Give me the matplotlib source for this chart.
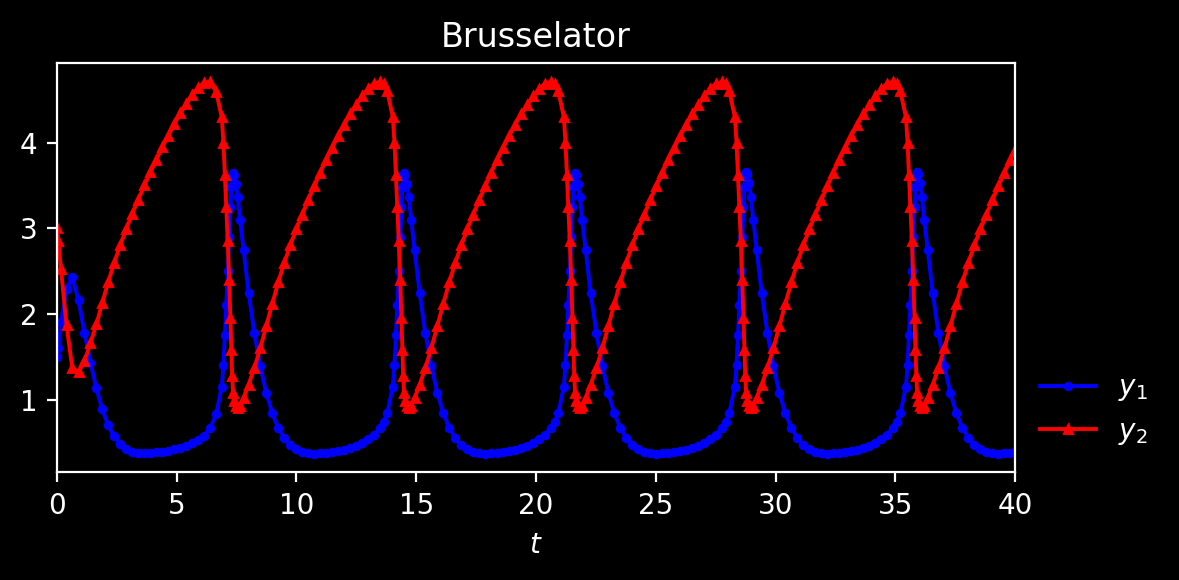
import matplotlib
matplotlib.use("Agg")
import matplotlib.pyplot as plt

# Brusselator, valores (pasos del integrador)
t = [0.00, 0.06, 0.17, 0.40, 0.64, 0.90, 1.15, 1.40, 1.65, 1.89, 2.14, 2.39, 2.64, 2.89,
     3.14, 3.39, 3.65, 3.90, 4.15, 4.40, 4.65, 4.90, 5.15, 5.40, 5.65, 5.90, 6.15, 6.40, 6.65,
     # ciclo 1
     6.88, 6.95, 7.01, 7.07, 7.13, 7.19, 7.24, 7.28, 7.315, 7.35, 7.40, 7.47, 7.55, 7.65,
     7.79, 8.00, 8.24, 8.49, 8.74, 8.99, 9.24, 9.49, 9.74, 9.99, 10.24, 10.49, 10.74, 10.99,
     11.24, 11.49, 11.74, 11.99, 12.24, 12.49, 12.74, 12.99, 13.24, 13.49, 13.64,
     # ciclo 2
     13.79, 14.02, 14.09, 14.15, 14.21, 14.27, 14.33, 14.38, 14.42, 14.455, 14.49, 14.54,
     14.61, 14.69, 14.79, 14.93, 15.14, 15.38, 15.63, 15.88, 16.13, 16.38, 16.63, 16.88,
     17.13, 17.38, 17.63, 17.88, 18.13, 18.38, 18.63, 18.88, 19.13, 19.38, 19.63, 19.88,
     20.13, 20.38, 20.63, 20.78,
     # ciclo 3
     20.93, 21.16, 21.23, 21.29, 21.35, 21.41, 21.47, 21.52, 21.56, 21.595, 21.63, 21.68,
     21.75, 21.83, 21.93, 22.07, 22.28, 22.52, 22.77, 23.02, 23.27, 23.52, 23.77, 24.02,
     24.27, 24.52, 24.77, 25.02, 25.27, 25.52, 25.77, 26.02, 26.27, 26.52, 26.77, 27.02,
     27.27, 27.52, 27.77, 27.92,
     # ciclo 4
     28.07, 28.30, 28.37, 28.43, 28.49, 28.55, 28.61, 28.66, 28.70, 28.735, 28.77, 28.82,
     28.89, 28.97, 29.07, 29.21, 29.42, 29.66, 29.91, 30.16, 30.41, 30.66, 30.91, 31.16,
     31.41, 31.66, 31.91, 32.16, 32.41, 32.66, 32.91, 33.16, 33.41, 33.66, 33.91, 34.16,
     34.41, 34.66, 34.91, 35.06,
     # ciclo 5
     35.21, 35.44, 35.51, 35.57, 35.63, 35.69, 35.75, 35.80, 35.84, 35.875, 35.91, 35.96,
     36.03, 36.11, 36.21, 36.35, 36.56, 36.80, 37.05, 37.30, 37.55, 37.80, 38.05, 38.30,
     38.55, 38.80, 39.05, 39.30, 39.55, 39.80, 40.00]

y1 = [1.50, 1.60, 1.90, 2.29, 2.43, 2.16, 1.78, 1.43, 1.13, 0.89, 0.70, 0.57, 0.48, 0.42,
      0.39, 0.38, 0.38, 0.38, 0.384, 0.391, 0.40, 0.42, 0.44, 0.46, 0.49, 0.53, 0.58, 0.67, 0.83,
      # ciclo 1
      1.15, 1.40, 1.75, 2.10, 2.50, 2.90, 3.25, 3.48, 3.61, 3.65, 3.62, 3.52, 3.36, 3.10,
      2.75, 2.25, 1.78, 1.39, 1.08, 0.84, 0.67, 0.55, 0.47, 0.42, 0.39, 0.375, 0.37, 0.372,
      0.378, 0.386, 0.396, 0.41, 0.43, 0.455, 0.49, 0.535, 0.59, 0.67, 0.74,
      # ciclo 2
      0.84, 1.15, 1.40, 1.75, 2.10, 2.50, 2.90, 3.25, 3.48, 3.61, 3.65, 3.62, 3.52, 3.36,
      3.10, 2.75, 2.25, 1.78, 1.39, 1.08, 0.84, 0.67, 0.55, 0.47, 0.42, 0.39, 0.375, 0.37,
      0.372, 0.378, 0.386, 0.396, 0.41, 0.43, 0.455, 0.49, 0.535, 0.59, 0.67, 0.74,
      # ciclo 3
      0.84, 1.15, 1.40, 1.75, 2.10, 2.50, 2.90, 3.25, 3.48, 3.61, 3.65, 3.62, 3.52, 3.36,
      3.10, 2.75, 2.25, 1.78, 1.39, 1.08, 0.84, 0.67, 0.55, 0.47, 0.42, 0.39, 0.375, 0.37,
      0.372, 0.378, 0.386, 0.396, 0.41, 0.43, 0.455, 0.49, 0.535, 0.59, 0.67, 0.74,
      # ciclo 4
      0.84, 1.15, 1.40, 1.75, 2.10, 2.50, 2.90, 3.25, 3.48, 3.61, 3.66, 3.63, 3.53, 3.37,
      3.10, 2.75, 2.25, 1.78, 1.39, 1.08, 0.84, 0.67, 0.55, 0.47, 0.42, 0.39, 0.375, 0.37,
      0.372, 0.378, 0.386, 0.396, 0.41, 0.43, 0.455, 0.49, 0.535, 0.59, 0.67, 0.74,
      # ciclo 5
      0.84, 1.15, 1.40, 1.75, 2.10, 2.50, 2.90, 3.25, 3.48, 3.61, 3.66, 3.63, 3.53, 3.37,
      3.10, 2.75, 2.25, 1.78, 1.39, 1.08, 0.84, 0.67, 0.55, 0.47, 0.42, 0.39, 0.375, 0.37,
      0.372, 0.378, 0.384]

y2 = [3.00, 2.85, 2.52, 1.87, 1.37, 1.32, 1.45, 1.66, 1.88, 2.13, 2.37, 2.60, 2.80, 2.99,
      3.17, 3.33, 3.50, 3.655, 3.80, 3.95, 4.08, 4.22, 4.34, 4.45, 4.56, 4.64, 4.70, 4.71, 4.59,
      # ciclo 1
      4.30, 4.00, 3.62, 3.25, 2.85, 2.40, 1.95, 1.58, 1.28, 1.08, 0.98, 0.92, 0.90, 0.93,
      1.02, 1.17, 1.37, 1.60, 1.86, 2.12, 2.37, 2.60, 2.80, 2.99, 3.16, 3.33, 3.49, 3.65,
      3.80, 3.94, 4.08, 4.21, 4.33, 4.44, 4.54, 4.63, 4.69, 4.71, 4.68,
      # ciclo 2
      4.60, 4.30, 4.00, 3.62, 3.25, 2.85, 2.40, 1.95, 1.58, 1.28, 1.08, 0.98, 0.92, 0.90,
      0.93, 1.02, 1.17, 1.37, 1.60, 1.86, 2.12, 2.37, 2.60, 2.80, 2.99, 3.16, 3.33, 3.49,
      3.65, 3.80, 3.94, 4.08, 4.21, 4.33, 4.44, 4.54, 4.63, 4.69, 4.71, 4.68,
      # ciclo 3
      4.60, 4.30, 4.00, 3.62, 3.25, 2.85, 2.40, 1.95, 1.58, 1.28, 1.08, 0.98, 0.92, 0.90,
      0.93, 1.02, 1.17, 1.37, 1.60, 1.86, 2.12, 2.37, 2.60, 2.80, 2.99, 3.16, 3.33, 3.49,
      3.65, 3.80, 3.94, 4.08, 4.21, 4.33, 4.44, 4.54, 4.63, 4.69, 4.71, 4.68,
      # ciclo 4
      4.60, 4.30, 4.00, 3.62, 3.25, 2.85, 2.40, 1.95, 1.58, 1.28, 1.08, 0.98, 0.92, 0.90,
      0.93, 1.02, 1.17, 1.37, 1.60, 1.86, 2.12, 2.37, 2.60, 2.80, 2.99, 3.16, 3.33, 3.49,
      3.65, 3.80, 3.94, 4.08, 4.21, 4.33, 4.44, 4.54, 4.63, 4.69, 4.71, 4.68,
      # ciclo 5
      4.60, 4.30, 4.00, 3.62, 3.25, 2.85, 2.40, 1.95, 1.58, 1.28, 1.08, 0.98, 0.92, 0.90,
      0.93, 1.02, 1.17, 1.37, 1.60, 1.86, 2.12, 2.37, 2.60, 2.80, 2.99, 3.16, 3.33, 3.49,
      3.65, 3.80, 3.91]

plt.style.use('dark_background')
fig = plt.figure(figsize=(5.895, 2.9), dpi=200)
ax = fig.add_subplot(111)
fig.subplots_adjust(left=0.0483, right=0.861, top=0.891, bottom=0.186)

ax.plot(t, y1, 'b-', marker='o', ms=2.4, lw=1.4, label='$y_1$')
ax.plot(t, y2, 'r-', marker='^', ms=3.2, lw=1.4, label='$y_2$')
ax.set_xlim(0, 40)
ax.set_xlabel('$t$')
ax.set_title('Brusselator')
ax.legend(loc='lower left', bbox_to_anchor=(1.0, 0.0), frameon=False)

fig.savefig('out.png', dpi=200)
